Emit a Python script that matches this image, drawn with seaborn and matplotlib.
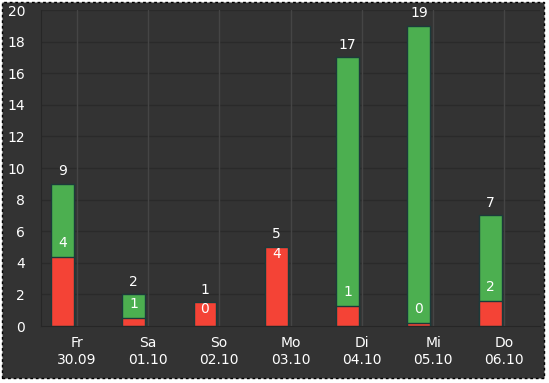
import pandas as pd
import seaborn as sns
import matplotlib.pyplot as plt
from matplotlib.patches import Rectangle

days = ['Fr', 'Sa', 'So', 'Mo', 'Di', 'Mi', 'Do']
dates = ['30.09', '01.10', '02.10', '03.10', '04.10', '05.10', '06.10']
totals = [9, 2, 1, 5, 17, 19, 7]
red_heights = [4.38, 0.5, 1.5, 5.0, 1.27, 0.19, 1.59]
red_labels = [4, 1, 0, 4, 1, 0, 2]

bg = '#333333'
green = '#4caf50'
red = '#f44336'
txt = '#ffffff'
fs = 10

sns.set_style("dark")
plt.rcParams['font.family'] = ['DejaVu Sans']
plt.rcParams['font.size'] = fs

labels = [f"{d}\n{dt}" for d, dt in zip(days, dates)]
df = pd.DataFrame({'day': labels, 'total': totals, 'red': red_heights, 'slot': 'bar'})

fig = plt.figure(figsize=(5.49, 3.83), dpi=100, facecolor='white')
# dark panel with dashed frame, kept behind the axes
frame = Rectangle((2 / 549, 5 / 383), 542 / 549, 376 / 383, transform=fig.transFigure,
                  facecolor=bg, edgecolor='black', linestyle=(0, (2, 2)), linewidth=1,
                  zorder=-10)
fig.patches.append(frame)
ax = fig.add_axes([41 / 549, 57 / 383, 499 / 549, 316 / 383])
ax.set_facecolor(bg)

pal = {'bar': green, 'spare': green}
sns.barplot(data=df, x='day', y='total', hue='slot', hue_order=['bar', 'spare'],
            palette=pal, width=0.8, gap=0.2, dodge=True, edgecolor='#1c3a3a',
            linewidth=1, legend=False, ax=ax, saturation=1)
pal_r = {'bar': red, 'spare': red}
sns.barplot(data=df, x='day', y='red', hue='slot', hue_order=['bar', 'spare'],
            palette=pal_r, width=0.8, gap=0.2, dodge=True, edgecolor='#1c3a3a',
            linewidth=1, legend=False, ax=ax, saturation=1)

filled = [c for c in ax.containers if len(c) > 0]
green_bars = list(filled[0])
red_bars = list(filled[1])
for gb, rb, tot, rh, rl in zip(green_bars, red_bars, totals, red_heights, red_labels):
    cx = gb.get_x() + gb.get_width() / 2
    top = max(tot, rh)
    ax.annotate(str(tot), (cx, top), xytext=(0, 9), textcoords='offset points',
                ha='center', va='center', color=txt, fontsize=fs)
    if rh >= tot:
        ax.annotate(str(rl), (cx, rh), xytext=(0, -5), textcoords='offset points',
                    ha='center', va='center', color=txt, fontsize=fs)
    else:
        ax.annotate(str(rl), (cx, rh), xytext=(0, 10), textcoords='offset points',
                    ha='center', va='center', color=txt, fontsize=fs)

ax.set_xlim(-0.5, 6.5)
ax.set_ylim(0, 20)
ax.set_yticks(range(0, 21, 2))
ax.set_xlabel('')
ax.set_ylabel('')
ax.grid(False)
ax.set_axisbelow(True)
for y in range(2, 21, 2):
    ax.axhline(y, color='#2a2a2a', linewidth=1, zorder=0)
for x in range(len(days)):
    ax.axvline(x, color='#454545', linewidth=1, zorder=0)

for s in ['top', 'right']:
    ax.spines[s].set_visible(False)
ax.spines['left'].set_color('#262626')
ax.spines['bottom'].set_color('#262626')
ax.tick_params(axis='y', colors='#2a2a2a', labelcolor=txt, length=3, pad=8.5, labelsize=fs)
ax.tick_params(axis='x', colors='#454545', labelcolor=txt, length=3, pad=4, labelsize=fs)
for t in ax.get_xticklabels():
    t.set_linespacing(1.3)

fig.savefig('out.png', dpi=100, facecolor='white')
